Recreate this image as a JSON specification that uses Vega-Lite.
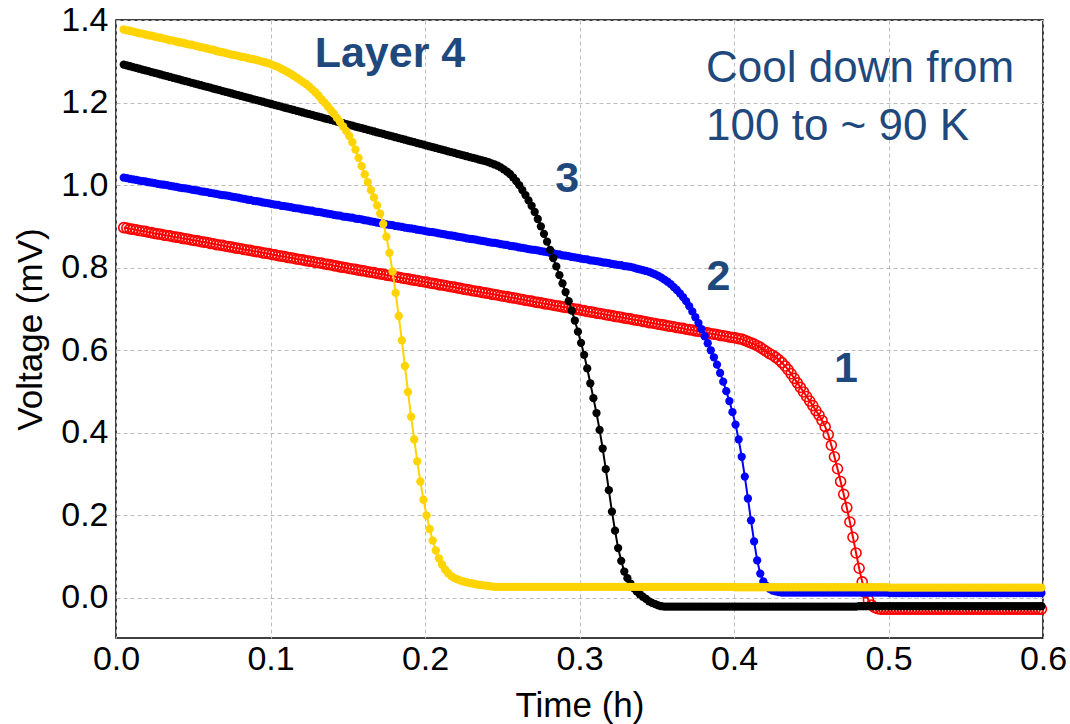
{
  "$schema": "https://vega.github.io/schema/vega-lite/v6.json",
  "width": 927,
  "height": 618,
  "autosize": {"type": "none"},
  "padding": {"left": 116, "top": 20, "right": 27, "bottom": 86},
  "background": "white",
  "config": {
    "view": {"stroke": "#000000", "strokeWidth": 1.5},
    "axis": {
      "labelFont": "Liberation Sans", "labelFontSize": 34, "labelColor": "#000000",
      "titleFont": "Liberation Sans", "titleFontSize": 35, "titleFontWeight": "normal", "titleColor": "#000000",
      "grid": true, "gridColor": "#bdbdbd", "gridDash": [4, 3], "gridWidth": 1,
      "domain": false, "ticks": false, "tickSize": 0
    }
  },
  "datasets": {
    "curves": [
      {"t":0.005,"a":0.897,"b":1.018,"c":1.292,"d":1.377},
      {"t":0.007,"a":0.896,"b":1.017,"c":1.290,"d":1.375},
      {"t":0.009,"a":0.894,"b":1.015,"c":1.288,"d":1.374},
      {"t":0.011,"a":0.893,"b":1.014,"c":1.286,"d":1.372},
      {"t":0.013,"a":0.892,"b":1.013,"c":1.284,"d":1.370},
      {"t":0.015,"a":0.890,"b":1.011,"c":1.282,"d":1.368},
      {"t":0.017,"a":0.889,"b":1.010,"c":1.280,"d":1.367},
      {"t":0.019,"a":0.888,"b":1.009,"c":1.278,"d":1.365},
      {"t":0.021,"a":0.886,"b":1.007,"c":1.276,"d":1.363},
      {"t":0.023,"a":0.885,"b":1.006,"c":1.274,"d":1.362},
      {"t":0.025,"a":0.883,"b":1.005,"c":1.272,"d":1.360},
      {"t":0.027,"a":0.882,"b":1.003,"c":1.270,"d":1.358},
      {"t":0.029,"a":0.881,"b":1.002,"c":1.268,"d":1.357},
      {"t":0.031,"a":0.879,"b":1.001,"c":1.266,"d":1.355},
      {"t":0.033,"a":0.878,"b":1.000,"c":1.264,"d":1.353},
      {"t":0.035,"a":0.877,"b":0.998,"c":1.262,"d":1.351},
      {"t":0.037,"a":0.875,"b":0.997,"c":1.260,"d":1.350},
      {"t":0.039,"a":0.874,"b":0.996,"c":1.258,"d":1.348},
      {"t":0.041,"a":0.873,"b":0.994,"c":1.256,"d":1.346},
      {"t":0.043,"a":0.871,"b":0.993,"c":1.254,"d":1.345},
      {"t":0.045,"a":0.870,"b":0.992,"c":1.252,"d":1.343},
      {"t":0.047,"a":0.869,"b":0.991,"c":1.250,"d":1.341},
      {"t":0.049,"a":0.867,"b":0.989,"c":1.248,"d":1.340},
      {"t":0.051,"a":0.866,"b":0.988,"c":1.246,"d":1.338},
      {"t":0.053,"a":0.865,"b":0.987,"c":1.244,"d":1.336},
      {"t":0.055,"a":0.863,"b":0.985,"c":1.242,"d":1.334},
      {"t":0.057,"a":0.862,"b":0.984,"c":1.240,"d":1.333},
      {"t":0.059,"a":0.861,"b":0.983,"c":1.238,"d":1.331},
      {"t":0.061,"a":0.859,"b":0.981,"c":1.236,"d":1.329},
      {"t":0.063,"a":0.858,"b":0.980,"c":1.234,"d":1.328},
      {"t":0.065,"a":0.856,"b":0.979,"c":1.232,"d":1.325},
      {"t":0.067,"a":0.855,"b":0.977,"c":1.230,"d":1.323},
      {"t":0.069,"a":0.854,"b":0.976,"c":1.228,"d":1.322},
      {"t":0.071,"a":0.852,"b":0.975,"c":1.226,"d":1.320},
      {"t":0.073,"a":0.851,"b":0.974,"c":1.224,"d":1.318},
      {"t":0.075,"a":0.850,"b":0.972,"c":1.222,"d":1.316},
      {"t":0.077,"a":0.848,"b":0.971,"c":1.220,"d":1.315},
      {"t":0.079,"a":0.847,"b":0.970,"c":1.218,"d":1.313},
      {"t":0.081,"a":0.846,"b":0.968,"c":1.216,"d":1.311},
      {"t":0.083,"a":0.844,"b":0.967,"c":1.214,"d":1.310},
      {"t":0.085,"a":0.843,"b":0.965,"c":1.212,"d":1.308},
      {"t":0.087,"a":0.842,"b":0.964,"c":1.210,"d":1.306},
      {"t":0.089,"a":0.840,"b":0.962,"c":1.208,"d":1.305},
      {"t":0.091,"a":0.839,"b":0.961,"c":1.206,"d":1.303},
      {"t":0.093,"a":0.838,"b":0.960,"c":1.204,"d":1.301},
      {"t":0.095,"a":0.836,"b":0.958,"c":1.202,"d":1.299},
      {"t":0.097,"a":0.835,"b":0.957,"c":1.200,"d":1.297},
      {"t":0.099,"a":0.834,"b":0.956,"c":1.198,"d":1.295},
      {"t":0.101,"a":0.832,"b":0.954,"c":1.196,"d":1.292},
      {"t":0.103,"a":0.831,"b":0.953,"c":1.194,"d":1.289},
      {"t":0.105,"a":0.829,"b":0.952,"c":1.192,"d":1.286},
      {"t":0.107,"a":0.828,"b":0.950,"c":1.190,"d":1.282},
      {"t":0.109,"a":0.827,"b":0.949,"c":1.188,"d":1.278},
      {"t":0.111,"a":0.825,"b":0.948,"c":1.186,"d":1.274},
      {"t":0.113,"a":0.824,"b":0.947,"c":1.184,"d":1.270},
      {"t":0.115,"a":0.823,"b":0.945,"c":1.182,"d":1.265},
      {"t":0.117,"a":0.821,"b":0.944,"c":1.180,"d":1.260},
      {"t":0.119,"a":0.820,"b":0.943,"c":1.178,"d":1.255},
      {"t":0.121,"a":0.819,"b":0.941,"c":1.176,"d":1.250},
      {"t":0.123,"a":0.817,"b":0.940,"c":1.174,"d":1.245},
      {"t":0.125,"a":0.816,"b":0.939,"c":1.172,"d":1.239},
      {"t":0.127,"a":0.815,"b":0.938,"c":1.170,"d":1.232},
      {"t":0.129,"a":0.813,"b":0.936,"c":1.168,"d":1.225},
      {"t":0.131,"a":0.812,"b":0.935,"c":1.166,"d":1.217},
      {"t":0.133,"a":0.811,"b":0.934,"c":1.164,"d":1.208},
      {"t":0.135,"a":0.809,"b":0.932,"c":1.162,"d":1.200},
      {"t":0.137,"a":0.808,"b":0.931,"c":1.160,"d":1.191},
      {"t":0.139,"a":0.807,"b":0.930,"c":1.158,"d":1.182},
      {"t":0.141,"a":0.805,"b":0.928,"c":1.156,"d":1.173},
      {"t":0.143,"a":0.804,"b":0.927,"c":1.154,"d":1.163},
      {"t":0.145,"a":0.802,"b":0.926,"c":1.152,"d":1.153},
      {"t":0.147,"a":0.801,"b":0.924,"c":1.150,"d":1.142},
      {"t":0.149,"a":0.800,"b":0.923,"c":1.148,"d":1.131},
      {"t":0.151,"a":0.798,"b":0.922,"c":1.146,"d":1.119},
      {"t":0.153,"a":0.797,"b":0.921,"c":1.144,"d":1.104},
      {"t":0.155,"a":0.796,"b":0.919,"c":1.142,"d":1.086},
      {"t":0.157,"a":0.794,"b":0.918,"c":1.140,"d":1.066},
      {"t":0.159,"a":0.793,"b":0.917,"c":1.138,"d":1.046},
      {"t":0.161,"a":0.792,"b":0.915,"c":1.136,"d":1.026},
      {"t":0.163,"a":0.790,"b":0.914,"c":1.134,"d":1.007},
      {"t":0.165,"a":0.789,"b":0.912,"c":1.132,"d":0.988},
      {"t":0.167,"a":0.788,"b":0.911,"c":1.130,"d":0.970},
      {"t":0.169,"a":0.786,"b":0.909,"c":1.128,"d":0.951},
      {"t":0.171,"a":0.785,"b":0.908,"c":1.126,"d":0.931},
      {"t":0.173,"a":0.784,"b":0.907,"c":1.124,"d":0.906},
      {"t":0.175,"a":0.782,"b":0.905,"c":1.122,"d":0.875},
      {"t":0.177,"a":0.781,"b":0.904,"c":1.120,"d":0.836},
      {"t":0.179,"a":0.780,"b":0.903,"c":1.118,"d":0.791},
      {"t":0.181,"a":0.778,"b":0.901,"c":1.116,"d":0.739},
      {"t":0.183,"a":0.777,"b":0.900,"c":1.114,"d":0.683},
      {"t":0.185,"a":0.775,"b":0.899,"c":1.112,"d":0.624},
      {"t":0.187,"a":0.774,"b":0.897,"c":1.110,"d":0.562},
      {"t":0.189,"a":0.773,"b":0.896,"c":1.108,"d":0.499},
      {"t":0.191,"a":0.771,"b":0.895,"c":1.106,"d":0.439},
      {"t":0.193,"a":0.770,"b":0.894,"c":1.104,"d":0.384},
      {"t":0.195,"a":0.769,"b":0.892,"c":1.102,"d":0.331},
      {"t":0.197,"a":0.767,"b":0.891,"c":1.100,"d":0.282},
      {"t":0.199,"a":0.766,"b":0.890,"c":1.098,"d":0.238},
      {"t":0.201,"a":0.765,"b":0.888,"c":1.096,"d":0.200},
      {"t":0.203,"a":0.763,"b":0.887,"c":1.094,"d":0.167},
      {"t":0.205,"a":0.762,"b":0.886,"c":1.092,"d":0.139},
      {"t":0.207,"a":0.761,"b":0.885,"c":1.090,"d":0.115},
      {"t":0.209,"a":0.759,"b":0.883,"c":1.088,"d":0.096},
      {"t":0.211,"a":0.758,"b":0.882,"c":1.086,"d":0.081},
      {"t":0.213,"a":0.757,"b":0.881,"c":1.084,"d":0.069},
      {"t":0.215,"a":0.755,"b":0.879,"c":1.082,"d":0.060},
      {"t":0.217,"a":0.754,"b":0.878,"c":1.080,"d":0.053},
      {"t":0.219,"a":0.753,"b":0.877,"c":1.078,"d":0.048},
      {"t":0.221,"a":0.751,"b":0.875,"c":1.076,"d":0.045},
      {"t":0.223,"a":0.750,"b":0.874,"c":1.074,"d":0.042},
      {"t":0.225,"a":0.748,"b":0.873,"c":1.072,"d":0.040},
      {"t":0.227,"a":0.747,"b":0.871,"c":1.070,"d":0.038},
      {"t":0.229,"a":0.746,"b":0.870,"c":1.068,"d":0.036},
      {"t":0.231,"a":0.744,"b":0.869,"c":1.066,"d":0.035},
      {"t":0.233,"a":0.743,"b":0.868,"c":1.064,"d":0.033},
      {"t":0.235,"a":0.742,"b":0.866,"c":1.062,"d":0.032},
      {"t":0.237,"a":0.740,"b":0.865,"c":1.060,"d":0.031},
      {"t":0.239,"a":0.739,"b":0.864,"c":1.058,"d":0.030},
      {"t":0.241,"a":0.738,"b":0.862,"c":1.056,"d":0.029},
      {"t":0.243,"a":0.736,"b":0.861,"c":1.053,"d":0.028},
      {"t":0.245,"a":0.735,"b":0.860,"c":1.050,"d":0.027},
      {"t":0.247,"a":0.734,"b":0.859,"c":1.047,"d":0.027},
      {"t":0.249,"a":0.732,"b":0.857,"c":1.043,"d":0.027},
      {"t":0.251,"a":0.731,"b":0.856,"c":1.038,"d":0.027},
      {"t":0.253,"a":0.730,"b":0.855,"c":1.033,"d":0.027},
      {"t":0.255,"a":0.728,"b":0.853,"c":1.027,"d":0.027},
      {"t":0.257,"a":0.727,"b":0.852,"c":1.019,"d":0.027},
      {"t":0.259,"a":0.726,"b":0.851,"c":1.010,"d":0.027},
      {"t":0.261,"a":0.724,"b":0.849,"c":1.000,"d":0.027},
      {"t":0.263,"a":0.723,"b":0.848,"c":0.988,"d":0.027},
      {"t":0.265,"a":0.721,"b":0.847,"c":0.976,"d":0.027},
      {"t":0.267,"a":0.720,"b":0.845,"c":0.963,"d":0.027},
      {"t":0.269,"a":0.719,"b":0.844,"c":0.950,"d":0.027},
      {"t":0.271,"a":0.717,"b":0.843,"c":0.935,"d":0.027},
      {"t":0.273,"a":0.716,"b":0.842,"c":0.918,"d":0.027},
      {"t":0.275,"a":0.715,"b":0.840,"c":0.900,"d":0.027},
      {"t":0.277,"a":0.713,"b":0.839,"c":0.882,"d":0.027},
      {"t":0.279,"a":0.712,"b":0.838,"c":0.863,"d":0.027},
      {"t":0.281,"a":0.711,"b":0.836,"c":0.843,"d":0.027},
      {"t":0.283,"a":0.709,"b":0.835,"c":0.823,"d":0.027},
      {"t":0.285,"a":0.708,"b":0.833,"c":0.803,"d":0.027},
      {"t":0.287,"a":0.707,"b":0.832,"c":0.782,"d":0.027},
      {"t":0.289,"a":0.705,"b":0.830,"c":0.762,"d":0.027},
      {"t":0.291,"a":0.704,"b":0.829,"c":0.741,"d":0.027},
      {"t":0.293,"a":0.703,"b":0.828,"c":0.719,"d":0.027},
      {"t":0.295,"a":0.701,"b":0.826,"c":0.696,"d":0.027},
      {"t":0.297,"a":0.700,"b":0.825,"c":0.672,"d":0.027},
      {"t":0.299,"a":0.699,"b":0.824,"c":0.645,"d":0.027},
      {"t":0.301,"a":0.697,"b":0.822,"c":0.618,"d":0.027},
      {"t":0.303,"a":0.696,"b":0.821,"c":0.589,"d":0.027},
      {"t":0.305,"a":0.694,"b":0.820,"c":0.556,"d":0.027},
      {"t":0.307,"a":0.693,"b":0.818,"c":0.520,"d":0.027},
      {"t":0.309,"a":0.692,"b":0.817,"c":0.484,"d":0.027},
      {"t":0.311,"a":0.690,"b":0.816,"c":0.448,"d":0.027},
      {"t":0.313,"a":0.689,"b":0.815,"c":0.407,"d":0.027},
      {"t":0.315,"a":0.688,"b":0.813,"c":0.362,"d":0.027},
      {"t":0.317,"a":0.686,"b":0.812,"c":0.312,"d":0.027},
      {"t":0.319,"a":0.685,"b":0.811,"c":0.261,"d":0.027},
      {"t":0.321,"a":0.684,"b":0.809,"c":0.209,"d":0.027},
      {"t":0.323,"a":0.682,"b":0.808,"c":0.163,"d":0.027},
      {"t":0.325,"a":0.681,"b":0.807,"c":0.121,"d":0.027},
      {"t":0.327,"a":0.680,"b":0.806,"c":0.090,"d":0.027},
      {"t":0.329,"a":0.678,"b":0.804,"c":0.064,"d":0.027},
      {"t":0.331,"a":0.677,"b":0.803,"c":0.048,"d":0.027},
      {"t":0.333,"a":0.676,"b":0.802,"c":0.035,"d":0.027},
      {"t":0.335,"a":0.674,"b":0.800,"c":0.024,"d":0.027},
      {"t":0.337,"a":0.673,"b":0.798,"c":0.016,"d":0.027},
      {"t":0.339,"a":0.672,"b":0.796,"c":0.009,"d":0.027},
      {"t":0.341,"a":0.670,"b":0.794,"c":0.003,"d":0.027},
      {"t":0.343,"a":0.669,"b":0.792,"c":-0.002,"d":0.027},
      {"t":0.345,"a":0.667,"b":0.790,"c":-0.008,"d":0.027},
      {"t":0.347,"a":0.666,"b":0.787,"c":-0.012,"d":0.027},
      {"t":0.349,"a":0.665,"b":0.784,"c":-0.015,"d":0.027},
      {"t":0.351,"a":0.663,"b":0.780,"c":-0.018,"d":0.027},
      {"t":0.353,"a":0.662,"b":0.776,"c":-0.020,"d":0.027},
      {"t":0.355,"a":0.661,"b":0.771,"c":-0.021,"d":0.027},
      {"t":0.357,"a":0.659,"b":0.766,"c":-0.021,"d":0.027},
      {"t":0.359,"a":0.658,"b":0.760,"c":-0.021,"d":0.027},
      {"t":0.361,"a":0.657,"b":0.753,"c":-0.021,"d":0.027},
      {"t":0.363,"a":0.655,"b":0.746,"c":-0.021,"d":0.027},
      {"t":0.365,"a":0.654,"b":0.738,"c":-0.021,"d":0.027},
      {"t":0.367,"a":0.653,"b":0.729,"c":-0.021,"d":0.027},
      {"t":0.369,"a":0.651,"b":0.719,"c":-0.021,"d":0.027},
      {"t":0.371,"a":0.650,"b":0.707,"c":-0.021,"d":0.027},
      {"t":0.373,"a":0.649,"b":0.694,"c":-0.021,"d":0.027},
      {"t":0.375,"a":0.647,"b":0.680,"c":-0.021,"d":0.027},
      {"t":0.377,"a":0.646,"b":0.666,"c":-0.021,"d":0.027},
      {"t":0.379,"a":0.645,"b":0.651,"c":-0.021,"d":0.027},
      {"t":0.381,"a":0.643,"b":0.634,"c":-0.021,"d":0.027},
      {"t":0.383,"a":0.642,"b":0.617,"c":-0.021,"d":0.027},
      {"t":0.385,"a":0.640,"b":0.600,"c":-0.021,"d":0.027},
      {"t":0.387,"a":0.639,"b":0.583,"c":-0.021,"d":0.027},
      {"t":0.389,"a":0.638,"b":0.565,"c":-0.021,"d":0.027},
      {"t":0.391,"a":0.636,"b":0.545,"c":-0.021,"d":0.027},
      {"t":0.393,"a":0.635,"b":0.524,"c":-0.021,"d":0.027},
      {"t":0.395,"a":0.634,"b":0.501,"c":-0.021,"d":0.027},
      {"t":0.397,"a":0.632,"b":0.477,"c":-0.021,"d":0.027},
      {"t":0.399,"a":0.631,"b":0.450,"c":-0.021,"d":0.027},
      {"t":0.401,"a":0.630,"b":0.420,"c":-0.021,"d":0.026},
      {"t":0.403,"a":0.628,"b":0.384,"c":-0.021,"d":0.026},
      {"t":0.405,"a":0.627,"b":0.342,"c":-0.021,"d":0.026},
      {"t":0.407,"a":0.624,"b":0.294,"c":-0.021,"d":0.026},
      {"t":0.409,"a":0.621,"b":0.241,"c":-0.021,"d":0.026},
      {"t":0.411,"a":0.618,"b":0.188,"c":-0.021,"d":0.026},
      {"t":0.413,"a":0.615,"b":0.137,"c":-0.021,"d":0.026},
      {"t":0.415,"a":0.611,"b":0.091,"c":-0.021,"d":0.026},
      {"t":0.417,"a":0.607,"b":0.059,"c":-0.021,"d":0.026},
      {"t":0.419,"a":0.602,"b":0.040,"c":-0.021,"d":0.026},
      {"t":0.421,"a":0.597,"b":0.029,"c":-0.021,"d":0.026},
      {"t":0.423,"a":0.592,"b":0.022,"c":-0.021,"d":0.026},
      {"t":0.425,"a":0.588,"b":0.018,"c":-0.021,"d":0.026},
      {"t":0.427,"a":0.583,"b":0.016,"c":-0.021,"d":0.026},
      {"t":0.429,"a":0.577,"b":0.014,"c":-0.021,"d":0.026},
      {"t":0.431,"a":0.570,"b":0.013,"c":-0.021,"d":0.026},
      {"t":0.433,"a":0.562,"b":0.013,"c":-0.021,"d":0.026},
      {"t":0.435,"a":0.553,"b":0.013,"c":-0.021,"d":0.026},
      {"t":0.437,"a":0.543,"b":0.013,"c":-0.021,"d":0.026},
      {"t":0.439,"a":0.532,"b":0.013,"c":-0.021,"d":0.026},
      {"t":0.441,"a":0.521,"b":0.013,"c":-0.021,"d":0.026},
      {"t":0.443,"a":0.510,"b":0.013,"c":-0.021,"d":0.026},
      {"t":0.445,"a":0.499,"b":0.013,"c":-0.021,"d":0.026},
      {"t":0.447,"a":0.488,"b":0.013,"c":-0.021,"d":0.026},
      {"t":0.449,"a":0.477,"b":0.013,"c":-0.021,"d":0.026},
      {"t":0.451,"a":0.466,"b":0.013,"c":-0.021,"d":0.026},
      {"t":0.453,"a":0.454,"b":0.013,"c":-0.021,"d":0.026},
      {"t":0.455,"a":0.443,"b":0.013,"c":-0.021,"d":0.026},
      {"t":0.457,"a":0.430,"b":0.013,"c":-0.021,"d":0.026},
      {"t":0.459,"a":0.415,"b":0.013,"c":-0.021,"d":0.026},
      {"t":0.461,"a":0.396,"b":0.013,"c":-0.021,"d":0.026},
      {"t":0.463,"a":0.370,"b":0.013,"c":-0.021,"d":0.026},
      {"t":0.465,"a":0.342,"b":0.013,"c":-0.021,"d":0.026},
      {"t":0.467,"a":0.313,"b":0.013,"c":-0.021,"d":0.026},
      {"t":0.469,"a":0.282,"b":0.013,"c":-0.021,"d":0.026},
      {"t":0.471,"a":0.251,"b":0.013,"c":-0.021,"d":0.026},
      {"t":0.473,"a":0.219,"b":0.013,"c":-0.021,"d":0.026},
      {"t":0.475,"a":0.184,"b":0.013,"c":-0.021,"d":0.026},
      {"t":0.477,"a":0.147,"b":0.013,"c":-0.021,"d":0.026},
      {"t":0.479,"a":0.109,"b":0.013,"c":-0.021,"d":0.026},
      {"t":0.481,"a":0.072,"b":0.013,"c":-0.020,"d":0.026},
      {"t":0.483,"a":0.039,"b":0.013,"c":-0.020,"d":0.026},
      {"t":0.485,"a":0.013,"b":0.013,"c":-0.020,"d":0.026},
      {"t":0.487,"a":-0.005,"b":0.013,"c":-0.020,"d":0.026},
      {"t":0.489,"a":-0.017,"b":0.013,"c":-0.020,"d":0.026},
      {"t":0.491,"a":-0.023,"b":0.013,"c":-0.020,"d":0.026},
      {"t":0.493,"a":-0.026,"b":0.013,"c":-0.020,"d":0.026},
      {"t":0.495,"a":-0.027,"b":0.013,"c":-0.020,"d":0.026},
      {"t":0.497,"a":-0.027,"b":0.013,"c":-0.020,"d":0.026},
      {"t":0.499,"a":-0.027,"b":0.013,"c":-0.020,"d":0.026},
      {"t":0.501,"a":-0.027,"b":0.012,"c":-0.020,"d":0.025},
      {"t":0.503,"a":-0.027,"b":0.012,"c":-0.020,"d":0.025},
      {"t":0.505,"a":-0.027,"b":0.012,"c":-0.020,"d":0.025},
      {"t":0.507,"a":-0.027,"b":0.012,"c":-0.020,"d":0.025},
      {"t":0.509,"a":-0.027,"b":0.012,"c":-0.020,"d":0.025},
      {"t":0.511,"a":-0.027,"b":0.012,"c":-0.020,"d":0.025},
      {"t":0.513,"a":-0.027,"b":0.012,"c":-0.020,"d":0.025},
      {"t":0.515,"a":-0.027,"b":0.012,"c":-0.020,"d":0.025},
      {"t":0.517,"a":-0.027,"b":0.012,"c":-0.020,"d":0.025},
      {"t":0.519,"a":-0.027,"b":0.012,"c":-0.020,"d":0.025},
      {"t":0.521,"a":-0.027,"b":0.012,"c":-0.020,"d":0.025},
      {"t":0.523,"a":-0.027,"b":0.012,"c":-0.020,"d":0.025},
      {"t":0.525,"a":-0.027,"b":0.012,"c":-0.020,"d":0.025},
      {"t":0.527,"a":-0.027,"b":0.012,"c":-0.020,"d":0.025},
      {"t":0.529,"a":-0.027,"b":0.012,"c":-0.020,"d":0.025},
      {"t":0.531,"a":-0.027,"b":0.012,"c":-0.020,"d":0.025},
      {"t":0.533,"a":-0.027,"b":0.012,"c":-0.020,"d":0.025},
      {"t":0.535,"a":-0.027,"b":0.012,"c":-0.020,"d":0.025},
      {"t":0.537,"a":-0.027,"b":0.012,"c":-0.020,"d":0.025},
      {"t":0.539,"a":-0.027,"b":0.012,"c":-0.020,"d":0.025},
      {"t":0.541,"a":-0.027,"b":0.012,"c":-0.020,"d":0.025},
      {"t":0.543,"a":-0.027,"b":0.012,"c":-0.020,"d":0.025},
      {"t":0.545,"a":-0.027,"b":0.012,"c":-0.020,"d":0.025},
      {"t":0.547,"a":-0.027,"b":0.012,"c":-0.020,"d":0.025},
      {"t":0.549,"a":-0.027,"b":0.012,"c":-0.020,"d":0.025},
      {"t":0.551,"a":-0.027,"b":0.012,"c":-0.020,"d":0.025},
      {"t":0.553,"a":-0.027,"b":0.012,"c":-0.020,"d":0.025},
      {"t":0.555,"a":-0.027,"b":0.012,"c":-0.020,"d":0.025},
      {"t":0.557,"a":-0.027,"b":0.012,"c":-0.020,"d":0.025},
      {"t":0.559,"a":-0.027,"b":0.012,"c":-0.020,"d":0.025},
      {"t":0.561,"a":-0.027,"b":0.012,"c":-0.020,"d":0.025},
      {"t":0.563,"a":-0.027,"b":0.012,"c":-0.020,"d":0.025},
      {"t":0.565,"a":-0.027,"b":0.012,"c":-0.020,"d":0.025},
      {"t":0.567,"a":-0.027,"b":0.012,"c":-0.020,"d":0.025},
      {"t":0.569,"a":-0.027,"b":0.012,"c":-0.020,"d":0.025},
      {"t":0.571,"a":-0.027,"b":0.012,"c":-0.020,"d":0.025},
      {"t":0.573,"a":-0.027,"b":0.012,"c":-0.020,"d":0.025},
      {"t":0.575,"a":-0.027,"b":0.012,"c":-0.020,"d":0.025},
      {"t":0.577,"a":-0.027,"b":0.012,"c":-0.020,"d":0.025},
      {"t":0.579,"a":-0.027,"b":0.012,"c":-0.020,"d":0.025},
      {"t":0.581,"a":-0.027,"b":0.012,"c":-0.020,"d":0.025},
      {"t":0.583,"a":-0.027,"b":0.012,"c":-0.020,"d":0.025},
      {"t":0.585,"a":-0.027,"b":0.012,"c":-0.020,"d":0.025},
      {"t":0.587,"a":-0.027,"b":0.012,"c":-0.020,"d":0.025},
      {"t":0.589,"a":-0.027,"b":0.012,"c":-0.020,"d":0.025},
      {"t":0.591,"a":-0.027,"b":0.012,"c":-0.020,"d":0.025},
      {"t":0.593,"a":-0.027,"b":0.012,"c":-0.020,"d":0.025},
      {"t":0.595,"a":-0.027,"b":0.012,"c":-0.020,"d":0.025},
      {"t":0.597,"a":-0.027,"b":0.012,"c":-0.020,"d":0.025},
      {"t":0.599,"a":-0.027,"b":0.012,"c":-0.020,"d":0.025}
    ],
    "layer_labels": [
      {"t": 0.1773, "v": 1.285, "label": "Layer 4"},
      {"t": 0.292, "v": 0.984, "label": "3"},
      {"t": 0.390, "v": 0.747, "label": "2"},
      {"t": 0.4725, "v": 0.524, "label": "1"}
    ],
    "caption": [
      {"t": 0.3819, "v": 1.251, "label": "Cool down from"},
      {"t": 0.3819, "v": 1.110, "label": "100 to ~ 90 K"}
    ]
  },
  "encoding": {
    "x": {
      "field": "t", "type": "quantitative",
      "scale": {"domain": [0, 0.6], "nice": false, "zero": false},
      "axis": {"title": "Time (h)", "values": [0, 0.1, 0.2, 0.3, 0.4, 0.5, 0.6], "format": ".1f",
               "labelFlush": false, "labelPadding": 4, "titlePadding": 12}
    },
    "y": {
      "field": "v", "type": "quantitative",
      "scale": {"domain": [-0.097, 1.4], "nice": false, "zero": false},
      "axis": {"title": "Voltage (mV)", "values": [0, 0.2, 0.4, 0.6, 0.8, 1.0, 1.2, 1.4], "format": ".1f",
               "labelPadding": 8, "titlePadding": 12}
    }
  },
  "layer": [
    {
      "data": {"name": "curves"},
      "transform": [{"fold": ["a", "b", "c", "d"], "as": ["s", "v"]}],
      "layer": [
        {"transform": [{"filter": "datum.s === 'a'"}],
         "mark": {"type": "line", "color": "#ff0000", "strokeWidth": 2}},
        {"transform": [{"filter": "datum.s === 'a'"}],
         "mark": {"type": "point", "shape": "circle", "filled": false, "stroke": "#ff0000", "strokeWidth": 1.6, "size": 100, "opacity": 1}},
        {"transform": [{"filter": "datum.s === 'b'"}],
         "mark": {"type": "line", "color": "#0000ff", "strokeWidth": 2}},
        {"transform": [{"filter": "datum.s === 'b'"}],
         "mark": {"type": "circle", "color": "#0000ff", "size": 68, "opacity": 1}},
        {"transform": [{"filter": "datum.s === 'c'"}],
         "mark": {"type": "line", "color": "#000000", "strokeWidth": 2}},
        {"transform": [{"filter": "datum.s === 'c'"}],
         "mark": {"type": "circle", "color": "#000000", "size": 68, "opacity": 1}},
        {"transform": [{"filter": "datum.s === 'd'"}],
         "mark": {"type": "line", "color": "#ffd400", "strokeWidth": 2}},
        {"transform": [{"filter": "datum.s === 'd'"}],
         "mark": {"type": "circle", "color": "#ffd400", "size": 70, "opacity": 1}}
      ]
    },
    {
      "data": {"name": "layer_labels"},
      "mark": {"type": "text", "font": "Liberation Sans", "fontSize": 43, "fontWeight": "bold",
               "color": "#1f497d", "align": "center", "baseline": "alphabetic"},
      "encoding": {"text": {"field": "label"}}
    },
    {
      "data": {"name": "caption"},
      "mark": {"type": "text", "font": "Liberation Sans", "fontSize": 44, "fontWeight": "normal",
               "color": "#1f497d", "align": "left", "baseline": "alphabetic"},
      "encoding": {"text": {"field": "label"}}
    }
  ]
}
